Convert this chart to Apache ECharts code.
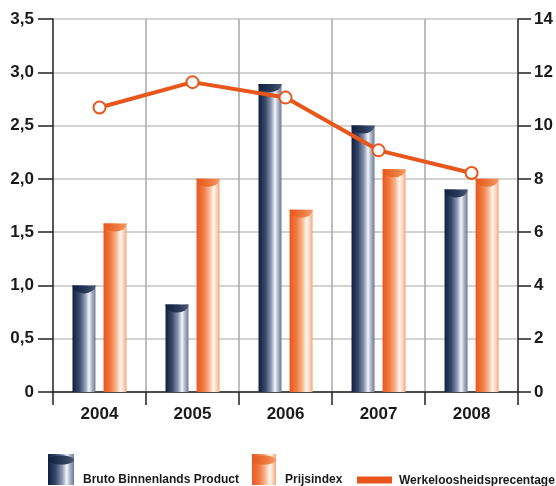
<!DOCTYPE html>
<html>
<head>
<meta charset="utf-8">
<script src="https://cdn.jsdelivr.net/npm/echarts@6/dist/echarts.min.js"></script>
<style>
html,body{margin:0;padding:0;background:#fff;}
#c{width:556px;height:486px;}
</style>
</head>
<body>
<div id="c"></div>
<script>
const categories = ['2004', '2005', '2006', '2007', '2008'];
const bbpValues = [1.0, 0.82, 2.89, 2.5, 1.9];
const prijsValues = [1.58, 2.0, 1.71, 2.09, 2.0];
const werkValues = [10.68, 11.63, 11.05, 9.07, 8.22];
const leftTicks = [0, 0.5, 1.0, 1.5, 2.0, 2.5, 3.0, 3.5];
const rightTicks = [0, 2, 4, 6, 8, 10, 12, 14];
const names = ['Bruto Binnenlands Product', 'Prijsindex', 'Werkeloosheidsprecentage'];

const FONT = "'Liberation Sans', Arial, sans-serif";
const FW = 'bold';
const TXT = '#1a1a1a';

const navyGrad = {
  type: 'linear', x: 0, y: 0, x2: 1, y2: 0,
  colorStops: [
    {offset: 0, color: '#0e1f3f'},
    {offset: 0.3, color: '#3a4a6c'},
    {offset: 0.55, color: '#8e9ab3'},
    {offset: 0.72, color: '#f4f6fa'},
    {offset: 0.85, color: '#aab3c6'},
    {offset: 1, color: '#6f7c98'}
  ]
};
const navyTop = {
  type: 'linear', x: 0, y: 0, x2: 1, y2: 0,
  colorStops: [
    {offset: 0, color: '#0e1f3f'},
    {offset: 0.6, color: '#2a3a5a'},
    {offset: 1, color: '#4b5874'}
  ]
};
const orangeGrad = {
  type: 'linear', x: 0, y: 0, x2: 1, y2: 0,
  colorStops: [
    {offset: 0, color: '#e9571d'},
    {offset: 0.3, color: '#f07b42'},
    {offset: 0.55, color: '#f8b58e'},
    {offset: 0.74, color: '#fff6ef'},
    {offset: 0.88, color: '#fbd2b8'},
    {offset: 1, color: '#f4a57a'}
  ]
};
const orangeTop = {
  type: 'linear', x: 0, y: 0, x2: 1, y2: 0,
  colorStops: [
    {offset: 0, color: '#e6561c'},
    {offset: 0.6, color: '#ee7a3e'},
    {offset: 1, color: '#f39a68'}
  ]
};
const halfEllipse = 'path://M0,0 L100,0 A50,50 0 0 1 0,0 Z';

function fmtLeft(v) { return v === 0 ? '0' : v.toFixed(1).replace('.', ','); }

const legendText = {color: TXT, fontFamily: FONT, fontWeight: FW, fontSize: 12};

const chart = echarts.init(document.getElementById('c'), null, {renderer: 'canvas'});
const option = {
  animation: false,
  backgroundColor: '#ffffff',
  grid: {left: 53, right: 36, top: 19, bottom: 94, containLabel: false},
  xAxis: {
    type: 'category',
    data: categories,
    boundaryGap: true,
    axisLine: {show: true, lineStyle: {color: '#222', width: 1.5}},
    axisTick: {show: true, length: 13, alignWithLabel: false, lineStyle: {color: '#222', width: 1.5}},
    axisLabel: {color: TXT, fontFamily: FONT, fontWeight: FW, fontSize: 17, margin: 14},
    splitLine: {show: true, lineStyle: {color: '#a8a8a8', width: 1.5}}
  },
  yAxis: [
    {
      type: 'value', min: 0, max: 3.5, interval: 0.5,
      axisLine: {show: true, lineStyle: {color: '#333', width: 1.5}},
      axisTick: {show: true, length: 15, inside: false, lineStyle: {color: '#222', width: 1.5}},
      axisLabel: {color: TXT, fontFamily: FONT, fontWeight: FW, fontSize: 17, margin: 19, formatter: fmtLeft},
      splitLine: {show: true, lineStyle: {color: '#c4c4c4', width: 1.5}}
    },
    {
      type: 'value', min: 0, max: 14, interval: 2,
      axisLine: {show: true, lineStyle: {color: '#333', width: 1.5}},
      axisTick: {show: true, length: 13, inside: false, lineStyle: {color: '#222', width: 1.5}},
      axisLabel: {color: TXT, fontFamily: FONT, fontWeight: FW, fontSize: 17, margin: 16},
      splitLine: {show: false}
    }
  ],
  legend: [
    {
      data: [{name: names[0], icon: 'rect'}],
      left: 48, top: 454, itemWidth: 26, itemHeight: 31, padding: 0, selectedMode: false,
      formatter: '{t|{name}}',
      textStyle: Object.assign({}, legendText, {rich: {t: Object.assign({}, legendText, {padding: [20, 0, 0, 4]})}})
    },
    {
      data: [{name: names[1], icon: 'rect'}],
      left: 252, top: 454, itemWidth: 24, itemHeight: 31, padding: 0, selectedMode: false,
      formatter: '{t|{name}}',
      textStyle: Object.assign({}, legendText, {rich: {t: Object.assign({}, legendText, {padding: [20, 0, 0, 4]})}})
    },
    {
      data: [{name: names[2], icon: 'rect'}],
      left: 357, top: 475, itemWidth: 33, itemHeight: 5, padding: 0, selectedMode: false,
      formatter: '{t|{name}}',
      textStyle: Object.assign({}, legendText, {rich: {t: Object.assign({}, legendText, {padding: [2, 0, 0, 3]})}})
    }
  ],
  graphic: [
    {type: 'ellipse', shape: {cx: 61, cy: 460, rx: 13, ry: 4.5}, style: {fill: navyTop}, z: 100},
    {type: 'ellipse', shape: {cx: 264, cy: 460, rx: 12, ry: 4.5}, style: {fill: orangeTop}, z: 100}
  ],
  series: [
    {
      name: names[0], type: 'bar', data: bbpValues, yAxisIndex: 0,
      barWidth: 23, barGap: '35%',
      itemStyle: {color: navyGrad}, z: 2
    },
    {
      name: names[1], type: 'bar', data: prijsValues, yAxisIndex: 0,
      barWidth: 23, barGap: '35%',
      itemStyle: {color: orangeGrad}, z: 2
    },
    {
      name: 'bbpTop', type: 'pictorialBar', data: bbpValues, yAxisIndex: 0,
      symbol: halfEllipse, symbolSize: [23, 8], symbolPosition: 'end',
      barWidth: 23, barGap: '35%', itemStyle: {color: navyTop}, z: 3, silent: true
    },
    {
      name: 'prijsTop', type: 'pictorialBar', data: prijsValues, yAxisIndex: 0,
      symbol: halfEllipse, symbolSize: [23, 8], symbolPosition: 'end',
      barWidth: 23, barGap: '35%', itemStyle: {color: orangeTop}, z: 3, silent: true
    },
    {
      name: names[2], type: 'line', data: werkValues, yAxisIndex: 1,
      symbol: 'emptyCircle', symbolSize: 12,
      lineStyle: {color: '#e8561c', width: 4},
      itemStyle: {color: '#e8561c', borderColor: '#e8561c', borderWidth: 3},
      z: 5
    }
  ]
};
chart.setOption(option);
</script>
</body>
</html>
